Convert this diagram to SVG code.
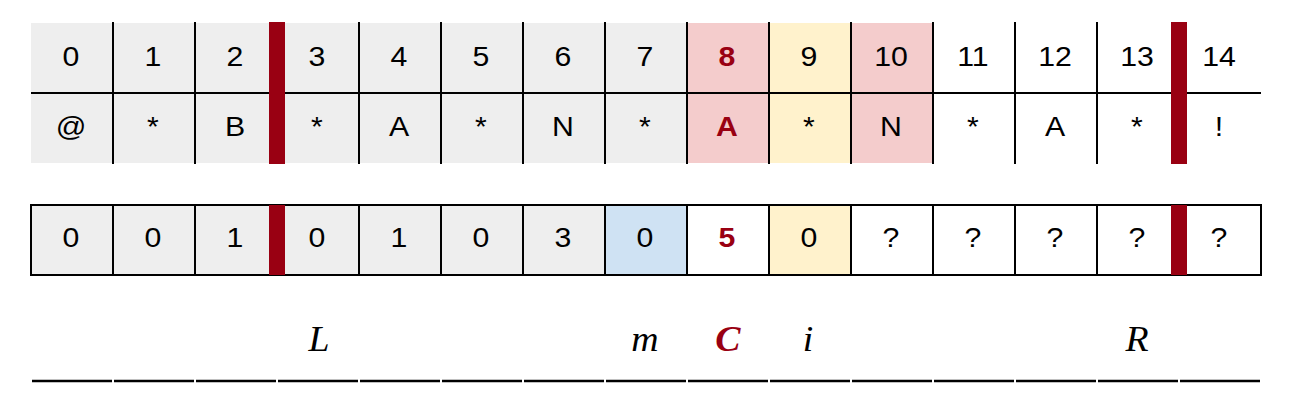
<svg xmlns="http://www.w3.org/2000/svg" width="1289" height="409" viewBox="0 0 1289 409">
<style>
.t{font-family:"Liberation Sans",Arial,sans-serif;font-size:28px;fill:#000;text-anchor:middle}
.r{fill:#990012;font-weight:bold}
.v{font-family:"Liberation Serif","Times New Roman",serif;font-style:italic;font-size:36px;fill:#000;text-anchor:middle}
.g{fill:#eeeeee}.p{fill:#f4cccc}.y{fill:#fff2cc}.b{fill:#cfe2f3}
.ln{stroke:#000;stroke-width:2;fill:none}
.bar{fill:#990012}
.u{stroke:#000;stroke-width:2.5}
</style>
<g id="top-grid">
<rect class="g" x="31" y="23" width="656" height="140"/>
<rect class="p" x="687" y="23" width="82" height="140"/>
<rect class="y" x="769" y="23" width="82" height="140"/>
<rect class="p" x="851" y="23" width="82" height="140"/>
<line class="ln" x1="31" y1="93" x2="1261" y2="93"/>
<path class="ln" d="M113 22V164M195 22V164M359 22V164M441 22V164M523 22V164M605 22V164M687 22V164M769 22V164M851 22V164M933 22V164M1015 22V164M1097 22V164"/>
<rect class="bar" x="269" y="22" width="16" height="142"/>
<rect class="bar" x="1171" y="22" width="16" height="142"/>
<g class="t" transform="scale(1.08,1)">
<text x="65.74" y="66">0</text><text x="141.67" y="66">1</text><text x="217.59" y="66">2</text><text x="293.52" y="66">3</text><text x="369.44" y="66">4</text><text x="445.37" y="66">5</text><text x="521.3" y="66">6</text><text x="597.22" y="66">7</text><text x="673.15" y="66" class="r">8</text><text x="749.07" y="66">9</text><text x="825" y="66">10</text><text x="900.93" y="66">11</text><text x="976.85" y="66">12</text><text x="1052.78" y="66">13</text><text x="1128.7" y="66">14</text>
<text x="65.74" y="136">@</text><text x="141.67" y="136">*</text><text x="217.59" y="136">B</text><text x="293.52" y="136">*</text><text x="369.44" y="136">A</text><text x="445.37" y="136">*</text><text x="521.3" y="136">N</text><text x="597.22" y="136">*</text><text x="673.15" y="136" class="r">A</text><text x="749.07" y="136">*</text><text x="825" y="136">N</text><text x="900.93" y="136">*</text><text x="976.85" y="136">A</text><text x="1052.78" y="136">*</text><text x="1128.7" y="136">!</text>
</g>
</g>
<g id="bottom-grid">
<rect class="g" x="31" y="205" width="574" height="70"/>
<rect class="b" x="605" y="205" width="82" height="70"/>
<rect class="y" x="769" y="205" width="82" height="70"/>
<rect class="ln" x="31" y="205" width="1230" height="70"/>
<path class="ln" d="M113 205V275M195 205V275M359 205V275M441 205V275M523 205V275M605 205V275M687 205V275M769 205V275M851 205V275M933 205V275M1015 205V275M1097 205V275"/>
<rect class="bar" x="269" y="205" width="16" height="70"/>
<rect class="bar" x="1171" y="205" width="16" height="70"/>
<g class="t" transform="scale(1.08,1)">
<text x="65.74" y="247">0</text><text x="141.67" y="247">0</text><text x="217.59" y="247">1</text><text x="293.52" y="247">0</text><text x="369.44" y="247">1</text><text x="445.37" y="247">0</text><text x="521.3" y="247">3</text><text x="597.22" y="247">0</text><text x="673.15" y="247" class="r">5</text><text x="749.07" y="247">0</text><text x="825" y="247">?</text><text x="900.93" y="247">?</text><text x="976.85" y="247">?</text><text x="1052.78" y="247">?</text><text x="1128.7" y="247">?</text>
</g>
</g>
<g id="labels">
<path class="u" d="M32 381H112M114 381H194M196 381H276M278 381H358M360 381H440M442 381H522M524 381H604M606 381H686M688 381H768M770 381H850M852 381H932M934 381H1014M1016 381H1096M1098 381H1178M1180 381H1260"/>
<g transform="scale(1.05,1)">
<text class="v" x="303.8" y="351">L</text>
<text class="v" x="614.3" y="351">m</text>
<text class="v" x="693.3" y="351" style="fill:#990012;font-weight:bold">C</text>
<text class="v" x="769.5" y="351">i</text>
<text class="v" x="1082.9" y="351">R</text>
</g>
</g>
</svg>
